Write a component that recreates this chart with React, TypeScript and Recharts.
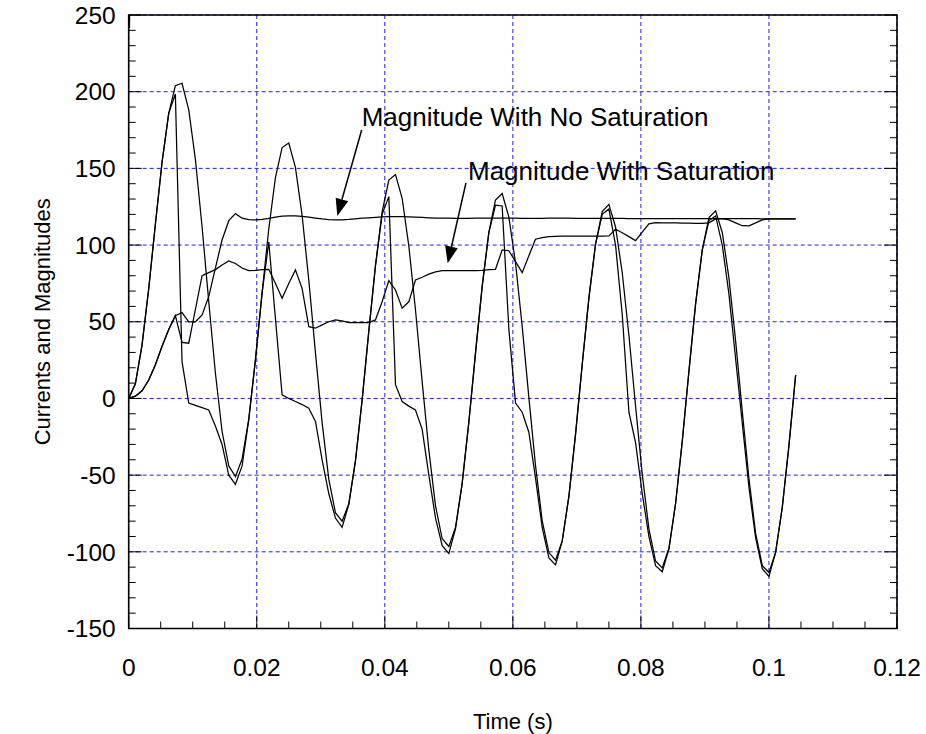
import React from "react";
import {
  CartesianGrid,
  Line,
  LineChart,
  ReferenceArea,
  ReferenceLine,
  XAxis,
  YAxis,
} from "recharts";

// sample times (s), 16 samples per 60 Hz cycle
const time = [
  0, 0.00104, 0.00208, 0.00313, 0.00417, 0.00521, 0.00625, 0.00729, 0.00833, 0.00938,
  0.01042, 0.01146, 0.0125, 0.01354, 0.01458, 0.01563, 0.01667, 0.01771, 0.01875, 0.01979,
  0.02083, 0.02188, 0.02292, 0.02396, 0.025, 0.02604, 0.02708, 0.02813, 0.02917, 0.03021,
  0.03125, 0.03229, 0.03333, 0.03438, 0.03542, 0.03646, 0.0375, 0.03854, 0.03958, 0.04063,
  0.04167, 0.04271, 0.04375, 0.04479, 0.04583, 0.04688, 0.04792, 0.04896, 0.05, 0.05104,
  0.05208, 0.05313, 0.05417, 0.05521, 0.05625, 0.05729, 0.05833, 0.05938, 0.06042, 0.06146,
  0.0625, 0.06354, 0.06458, 0.06563, 0.06667, 0.06771, 0.06875, 0.06979, 0.07083, 0.07188,
  0.07292, 0.07396, 0.075, 0.07604, 0.07708, 0.07813, 0.07917, 0.08021, 0.08125, 0.08229,
  0.08333, 0.08438, 0.08542, 0.08646, 0.0875, 0.08854, 0.08958, 0.09063, 0.09167, 0.09271,
  0.09375, 0.09479, 0.09583, 0.09688, 0.09792, 0.09896, 0.1, 0.10104, 0.10208, 0.10313,
  0.10417,
];

const currentNoSat = [
  0, 9.5, 34.8, 71.7, 113.7, 154, 185.9, 203.9, 205.5, 188.1,
  155.7, 111.9, 63.3, 16.6, -21.4, -44, -51, -39.5, -13.6, 25,
  68.7, 110.6, 144.1, 163.6, 166.5, 150.6, 119.5, 77.1, 29.7, -15.8,
  -52.6, -74.5, -80, -68.7, -40.5, -1, 43.7, 86.5, 121.5, 142.4,
  146, 130.5, 99.5, 57.8, 11.1, -33.7, -70, -91.5, -96.5, -84.2,
  -55.5, -15.4, 29.7, 73.1, 108.5, 129.4, 133.6, 118.2, 88.3, 47,
  0.7, -43.8, -79.6, -100.5, -105.5, -92.9, -63.9, -23.4, 22, 65.6,
  100.7, 121.8, 126.5, 111.8, 82.1, 41, -5.1, -49.3, -85, -106,
  -110.5, -97.7, -68.5, -27.9, 17.7, 61.5, 96.7, 118, 122.3, 108.2,
  78.6, 37.7, -8.3, -52.4, -88, -109, -113.5, -100.4, -71.1, -30.4,
  15.3,
];

const currentSat = [
  0, 9.5, 34.8, 71.7, 113.7, 154, 185.9, 198.5, 24, -3,
  -4.5, -6, -7.5, -18, -30, -50, -56, -44, -14, 25,
  68.7, 102, 52, 2.3, 0, -2, -4, -6.4, -15, -40,
  -62, -78, -84, -69, -40.5, -1, 43.7, 86.5, 120, 131.6,
  9, -2, -5, -7.5, -20, -50, -78, -96, -101, -85,
  -55.5, -15.4, 29.7, 73.1, 107.9, 126, 125.5, 45, -3, -9,
  -22, -52, -84, -104, -108.5, -93, -64, -23.4, 22, 65.6,
  100.7, 120, 123.5, 100, 55, -9, -29, -62, -90, -109,
  -113, -98, -68.5, -28, 17.7, 61.5, 96.7, 116, 119, 100,
  68, 26, -16, -58, -91, -111, -116, -100.4, -71.1, -30.4,
  15.3,
];

const magNoSat = [
  0, 1.5, 5, 12, 22, 34, 45, 54, 56, 50,
  50, 54.4, 66.4, 85, 103.3, 115.9, 120.5, 117.5, 116.6, 116.4,
  116.8, 117.4, 118.2, 118.8, 119, 119, 118.7, 118.2, 117.6, 117,
  116.6, 116.4, 116.4, 116.7, 117.1, 117.5, 117.8, 118.1, 118.3, 118.5,
  118.5, 118.5, 118.4, 118.2, 118, 117.8, 117.6, 117.5, 117.5, 117.4,
  117.4, 117.4, 117.5, 117.5, 117.5, 117.6, 117.6, 117.5, 117.5, 117.4,
  117.4, 117.4, 117.4, 117.5, 117.5, 117.5, 117.5, 117.4, 117.4, 117.4,
  117.4, 117.4, 117.4, 117.4, 117.4, 117.3, 117.3, 117.3, 117.3, 117.3,
  117.3, 117.3, 117.3, 117.3, 117.3, 117.3, 117.2, 117.2, 117.2, 117.2,
  117.2, 117.2, 117.2, 117.2, 117.2, 117.1, 117.1, 117.1, 117.1, 117.1,
  117.1,
];

const magSat = [
  0, 1.5, 5, 12, 22, 34, 45, 54, 36.5, 36,
  58, 80, 82, 84, 87, 89.6, 88, 85, 83.3, 83.5,
  84, 84.2, 75, 65.3, 75, 83.8, 71.8, 46.8, 45.8, 48,
  50, 51.2, 50.5, 49.4, 49.4, 49.4, 49.4, 51.2, 63, 76.8,
  70.7, 58.8, 63, 77.2, 79, 81, 82.5, 83.3, 83.3, 83.3,
  83.3, 83.3, 83.3, 83.5, 84, 84.2, 96.8, 96.3, 89.2, 82,
  93, 103.8, 104.8, 105.5, 105.7, 105.8, 105.9, 105.9, 105.9, 105.9,
  105.9, 105.9, 106, 110.3, 108, 105.5, 102.9, 108.5, 113.8, 114.6,
  114.5, 114.4, 114.4, 114.3, 114.3, 114.2, 114.2, 114.5, 117, 117.2,
  116.4, 114.5, 112.6, 112.5, 114.5, 116.4, 117, 117, 117, 117,
  117,
];

const xTicks = [
  0, 0.005, 0.01, 0.015, 0.02, 0.025, 0.03, 0.035, 0.04, 0.045, 0.05, 0.055, 0.06,
  0.065, 0.07, 0.075, 0.08, 0.085, 0.09, 0.095, 0.1, 0.105, 0.11, 0.115, 0.12,
];
const xMajor = [0, 0.02, 0.04, 0.06, 0.08, 0.1, 0.12];
const yTicks = [
  -150, -140, -130, -120, -110, -100, -90, -80, -70, -60, -50, -40, -30, -20, -10, 0,
  10, 20, 30, 40, 50, 60, 70, 80, 90, 100, 110, 120, 130, 140, 150, 160, 170, 180, 190,
  200, 210, 220, 230, 240, 250,
];
const yMajor = [-150, -100, -50, 0, 50, 100, 150, 200, 250];

const data = time.map((t, i) => ({
  t,
  iNoSat: currentNoSat[i],
  iSat: currentSat[i],
  mNoSat: magNoSat[i],
  mSat: magSat[i],
}));

const FONT = '"Liberation Sans", Arial, sans-serif';
const GRID = "#1f1fff";

const isMajor = (v: number, step: number) => Math.abs(v / step - Math.round(v / step)) < 1e-6;
const fmtX = (v: number) => (v === 0 ? "0" : String(+v.toFixed(3)));

function BottomTick(p: any) {
  const major = isMajor(p.payload.value, 0.02);
  return (
    <g>
      <line x1={p.x} x2={p.x} y1={p.y} y2={p.y - (major ? 13 : 7)} stroke="#000" />
      {major && (
        <text x={p.x} y={p.y + 47.5} textAnchor="middle" fontSize={24.5} fontFamily={FONT} fill="#000">
          {fmtX(p.payload.value)}
        </text>
      )}
    </g>
  );
}

function TopTick(p: any) {
  const major = isMajor(p.payload.value, 0.02);
  return <line x1={p.x} x2={p.x} y1={p.y} y2={p.y + (major ? 13 : 7)} stroke="#000" />;
}

function LeftTick(p: any) {
  const major = isMajor(p.payload.value, 50);
  return (
    <g>
      <line x1={p.x} x2={p.x + (major ? 13 : 7)} y1={p.y} y2={p.y} stroke="#000" />
      {major && (
        <text x={p.x - 13} y={p.y + 8.7} textAnchor="end" fontSize={24.5} fontFamily={FONT} fill="#000">
          {p.payload.value}
        </text>
      )}
    </g>
  );
}

function RightTick(p: any) {
  const major = isMajor(p.payload.value, 50);
  return <line x1={p.x} x2={p.x - (major ? 13 : 7)} y1={p.y} y2={p.y} stroke="#000" />;
}

function arrowShape(label: string, dx: number, dy: number) {
  return (p: any) => {
    const { x1, y1, x2, y2 } = p;
    const len = Math.hypot(x2 - x1, y2 - y1) || 1;
    const ux = (x2 - x1) / len;
    const uy = (y2 - y1) / len;
    const bx = x2 - ux * 17;
    const by = y2 - uy * 17;
    const pts = `${x2},${y2} ${bx - uy * 6.5},${by + ux * 6.5} ${bx + uy * 6.5},${by - ux * 6.5}`;
    return (
      <g>
        <line x1={x1} y1={y1} x2={bx} y2={by} stroke="#000" strokeWidth={1.5} />
        <polygon points={pts} fill="#000" />
        <text x={x1 + dx} y={y1 + dy} fontSize={26} fontFamily={FONT} fill="#000">
          {label}
        </text>
      </g>
    );
  };
}

export default function App() {
  return (
    <div style={{ position: "absolute", left: 0, top: 0, width: 926, height: 734, background: "#fff" }}>
      <LineChart width={926} height={734} data={data} margin={{ top: 15, right: 29, bottom: 0, left: 0 }}>
        <CartesianGrid
          verticalValues={xMajor}
          horizontalValues={yMajor}
          stroke={GRID}
          strokeDasharray="4 3"
        />
        <XAxis
          dataKey="t"
          type="number"
          domain={[0, 0.12]}
          allowDataOverflow
          ticks={xTicks}
          interval={0}
          height={105.5}
          tickSize={0}
          tickMargin={0}
          tickLine={false}
          axisLine={false}
          tick={BottomTick}
          label={{
            content: (p: any) => (
              <text
                x={p.viewBox.x + p.viewBox.width / 2}
                y={p.viewBox.y + 100.5}
                textAnchor="middle"
                fontSize={22}
                fontFamily={FONT}
                fill="#000"
              >
                Time (s)
              </text>
            ),
          }}
        />
        <XAxis
          xAxisId="top"
          orientation="top"
          mirror
          type="number"
          domain={[0, 0.12]}
          allowDataOverflow
          ticks={xTicks}
          interval={0}
          tickSize={0}
          tickMargin={0}
          tickLine={false}
          axisLine={false}
          tick={TopTick}
        />
        <YAxis
          type="number"
          domain={[-150, 250]}
          allowDataOverflow
          ticks={yTicks}
          interval={0}
          width={128.7}
          tickSize={0}
          tickMargin={0}
          tickLine={false}
          axisLine={false}
          tick={LeftTick}
          label={{
            content: (p: any) => {
              const cy = p.viewBox.y + p.viewBox.height / 2;
              return (
                <text
                  x={49.5}
                  y={cy}
                  transform={`rotate(-90, 49.5, ${cy})`}
                  textAnchor="middle"
                  fontSize={22}
                  fontFamily={FONT}
                  fill="#000"
                >
                  Currents and Magnitudes
                </text>
              );
            },
          }}
        />
        <YAxis
          yAxisId="right"
          orientation="right"
          mirror
          type="number"
          domain={[-150, 250]}
          allowDataOverflow
          ticks={yTicks}
          interval={0}
          tickSize={0}
          tickMargin={0}
          tickLine={false}
          axisLine={false}
          tick={RightTick}
        />
        <Line dataKey="iNoSat" stroke="#000" strokeWidth={1.25} dot={false} isAnimationActive={false} />
        <Line dataKey="iSat" stroke="#000" strokeWidth={1.25} dot={false} isAnimationActive={false} />
        <Line dataKey="mNoSat" stroke="#000" strokeWidth={1.25} dot={false} isAnimationActive={false} />
        <Line dataKey="mSat" stroke="#000" strokeWidth={1.25} dot={false} isAnimationActive={false} />
        <ReferenceLine
          segment={[
            { x: 0.03639, y: 175 },
            { x: 0.03258, y: 119 },
          ]}
          shape={arrowShape("Magnitude With No Saturation", 0, -4)}
        />
        <ReferenceLine
          segment={[
            { x: 0.05268, y: 140.5 },
            { x: 0.04982, y: 88.1 },
          ]}
          shape={arrowShape("Magnitude With Saturation", 2, -3)}
        />
        <ReferenceArea x1={0} x2={0.12} y1={-150} y2={250} fill="none" stroke="#000" strokeWidth={1.6} />
      </LineChart>
    </div>
  );
}
